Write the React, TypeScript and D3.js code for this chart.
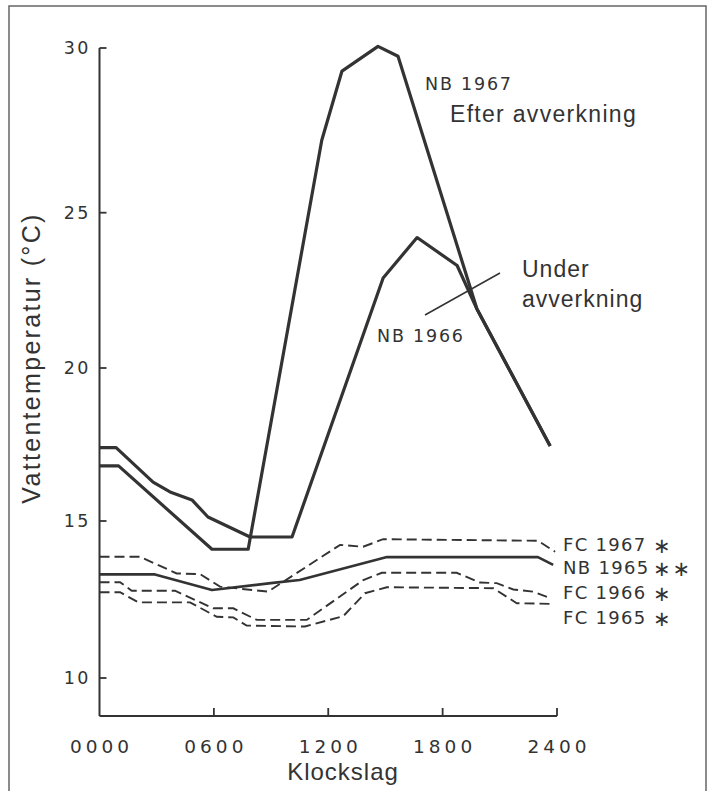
import React from "react";
import * as d3 from "d3";

// ---- data (hours after midnight, water temperature °C) ----
const hourTicks = [0, 6, 12, 18, 24];
const hourTickLabels = ["0000", "0600", "1200", "1800", "2400"];
const tempTicks = [10, 15, 20, 25, 30];

const nb1967Hours = [0, 1.0, 5.9, 7.8, 11.66, 12.72, 14.61, 15.66, 19.8, 23.64];
const nb1967Temps = [16.8, 16.8, 14.1, 14.1, 27.2, 29.3, 30.05, 29.75, 21.9, 17.45];

const nb1966Hours = [0, 0.87, 2.81, 3.7, 4.85, 5.69, 7.9, 10.1, 14.88, 16.66, 18.76, 19.8, 23.64];
const nb1966Temps = [17.4, 17.4, 16.27, 15.95, 15.69, 15.13, 14.49, 14.49, 22.9, 24.2, 23.3, 21.9, 17.45];

const nb1965Hours = [0, 2.91, 5.9, 9.1, 10.5, 15.08, 23.0, 23.8];
const nb1965Temps = [13.3, 13.3, 12.8, 13.03, 13.12, 13.85, 13.85, 13.6];

const fc1967Hours = [0, 2.12, 4.05, 5.27, 6.32, 8.84, 12.62, 13.83, 14.88, 23.0, 23.9];
const fc1967Temps = [13.86, 13.86, 13.33, 13.31, 12.91, 12.75, 14.24, 14.18, 14.42, 14.37, 14.02];

const fc1966Hours = [0, 1.08, 1.69, 3.96, 5.97, 7.02, 8.25, 10.87, 13.84, 14.81, 18.74, 19.96, 20.84, 21.71, 22.76, 23.64];
const fc1966Temps = [13.05, 13.05, 12.78, 12.78, 12.22, 12.22, 11.85, 11.85, 13.12, 13.35, 13.35, 13.04, 13.02, 12.82, 12.75, 12.54];

const fc1965Hours = [0, 1.08, 2.04, 4.75, 6.15, 7.02, 7.72, 10.78, 12.79, 13.93, 15.07, 20.66, 21.89, 23.81];
const fc1965Temps = [12.73, 12.73, 12.41, 12.41, 11.95, 11.93, 11.67, 11.64, 11.97, 12.7, 12.89, 12.86, 12.38, 12.36];

const seriesLabels = ["FC 1967", "NB 1965", "FC 1966", "FC 1965"];
const seriesStars = ["∗", "∗∗", "∗", "∗"];

const zip = (h: number[], t: number[]) => h.map((v, i) => [v, t[i]] as [number, number]);

export default function App() {
  const W = 710;
  const H = 791;
  const x = d3.scaleLinear().domain([0, 24]).range([99.5, 557]);
  const y = d3.scaleLinear().domain(tempTicks).range([678, 521, 368, 212.7, 48]);
  const line = d3
    .line<[number, number]>()
    .x((d) => x(d[0]))
    .y((d) => y(d[1]));

  const ink = "#333";
  const axisY = 716;
  const numFont = "'DejaVu Sans', sans-serif";
  const titleFont = "'Liberation Sans', Arial, sans-serif";

  const solidThick = [zip(nb1967Hours, nb1967Temps), zip(nb1966Hours, nb1966Temps)];
  const dashed = [zip(fc1967Hours, fc1967Temps), zip(fc1966Hours, fc1966Temps), zip(fc1965Hours, fc1965Temps)];
  const labelBaselines = [551, 574, 599, 624];

  return (
    <div style={{ position: "absolute", left: 0, top: 0 }}>
      <svg width={W} height={H} style={{ display: "block", background: "#fff" }}>
        {/* frame */}
        <rect x={9} y={6} width={697} height={820} fill="none" stroke="#666" strokeWidth={1.5} />

        {/* axes */}
        <line x1={x(0)} x2={x(0)} y1={y(30)} y2={axisY} stroke={ink} strokeWidth={2} />
        <line x1={x(0)} x2={x(24)} y1={axisY} y2={axisY} stroke={ink} strokeWidth={2} />
        {tempTicks.map((t) => (
          <g key={t}>
            <line x1={x(0)} x2={x(0) + 7} y1={y(t)} y2={y(t)} stroke={ink} strokeWidth={1.8} />
            <text
              x={91}
              y={y(t)}
              dy="0.36em"
              textAnchor="end"
              fontFamily={numFont}
              fontSize={17.5}
              letterSpacing={2.5}
              fill={ink}
            >
              {t}
            </text>
          </g>
        ))}
        {hourTicks.map((h, i) => (
          <g key={h}>
            {i > 0 && (
              <line x1={x(h)} x2={x(h)} y1={axisY} y2={axisY - 8} stroke={ink} strokeWidth={1.8} />
            )}
            <text
              x={x(h) + 2}
              y={753}
              textAnchor="middle"
              fontFamily={numFont}
              fontSize={18.5}
              letterSpacing={4}
              fill={ink}
            >
              {hourTickLabels[i]}
            </text>
          </g>
        ))}

        {/* axis titles */}
        <text x={343} y={780} textAnchor="middle" fontFamily={titleFont} fontSize={24} letterSpacing={1} fill={ink}>
          Klockslag
        </text>
        <text
          transform="translate(40,358) rotate(-90)"
          textAnchor="middle"
          fontFamily={titleFont}
          fontSize={25}
          letterSpacing={2.3}
          fill={ink}
        >
          Vattentemperatur (°C)
        </text>

        {/* series */}
        {dashed.map((d, i) => (
          <path key={"d" + i} d={line(d) || ""} fill="none" stroke={ink} strokeWidth={1.9} strokeDasharray="10,5" />
        ))}
        <path d={line(zip(nb1965Hours, nb1965Temps)) || ""} fill="none" stroke={ink} strokeWidth={2.6} strokeLinejoin="round" />
        {solidThick.map((d, i) => (
          <path key={"s" + i} d={line(d) || ""} fill="none" stroke={ink} strokeWidth={3.2} strokeLinejoin="round" />
        ))}

        {/* right-hand labels */}
        {seriesLabels.map((s, i) => (
          <g key={s}>
            <text x={563} y={labelBaselines[i]} fontFamily={numFont} fontSize={18} letterSpacing={1.3} fill={ink}>
              {s}
            </text>
            <text x={653} y={labelBaselines[i] + 2} fontFamily={numFont} fontSize={21} letterSpacing={2} fill={ink}>
              {seriesStars[i]}
            </text>
          </g>
        ))}

        {/* annotations */}
        <text x={425} y={90} fontFamily={numFont} fontSize={17.5} letterSpacing={1.8} fill={ink}>
          NB 1967
        </text>
        <text x={450} y={122} fontFamily={titleFont} fontSize={23} letterSpacing={1.3} fill={ink}>
          Efter avverkning
        </text>
        <text x={522} y={277} fontFamily={titleFont} fontSize={23} letterSpacing={1} fill={ink}>
          Under
        </text>
        <text x={522} y={307} fontFamily={titleFont} fontSize={23} letterSpacing={1} fill={ink}>
          avverkning
        </text>
        <line x1={425} y1={315} x2={500} y2={273} stroke={ink} strokeWidth={1.5} />
        <text x={377} y={342} fontFamily={numFont} fontSize={17.5} letterSpacing={1.8} fill={ink}>
          NB 1966
        </text>
      </svg>
    </div>
  );
}
